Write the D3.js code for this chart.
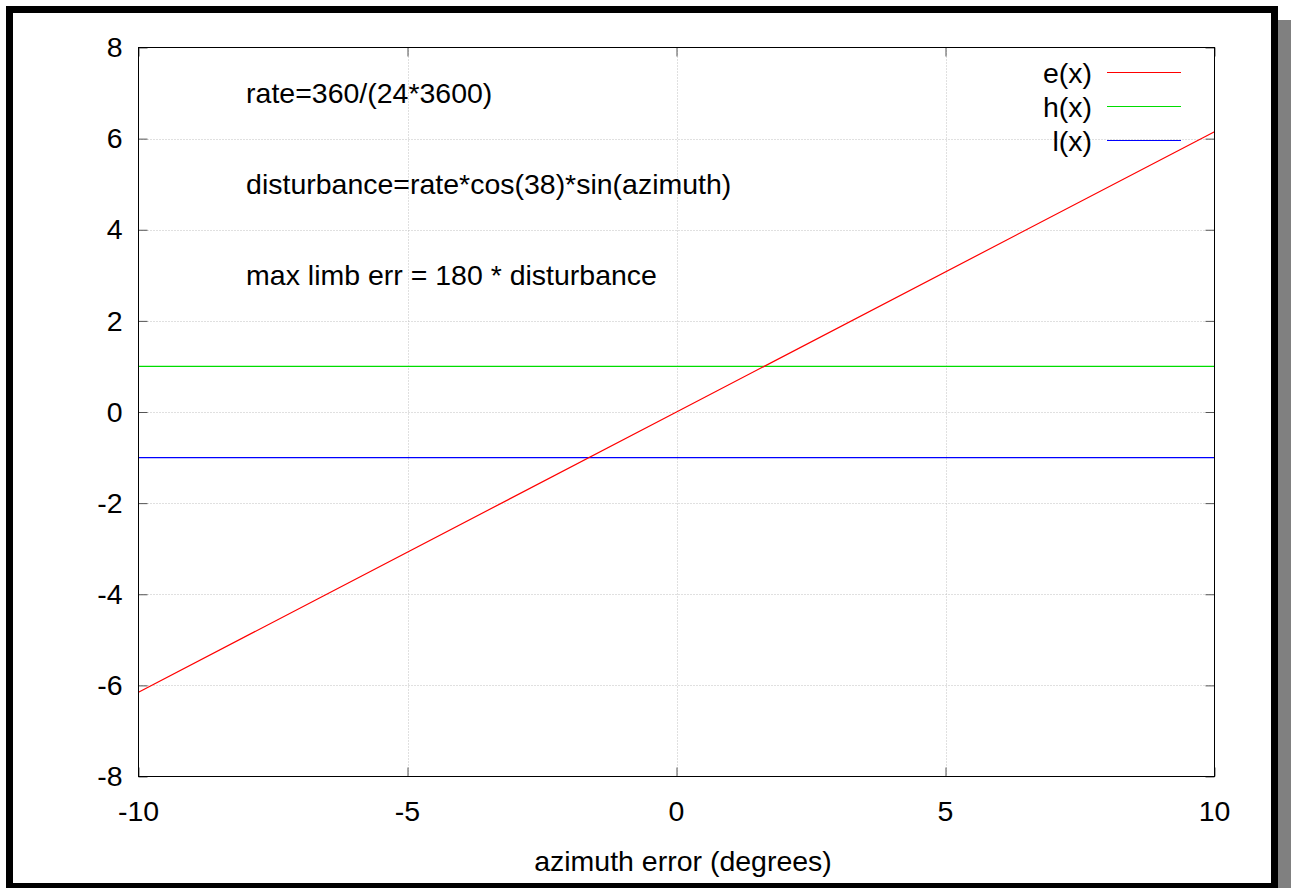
<!DOCTYPE html>
<html>
<head>
<meta charset="utf-8">
<script src="https://cdn.jsdelivr.net/npm/d3@7"></script>
<style>
  html, body { margin: 0; padding: 0; background: #fff; }
  svg { display: block; }
  text { font-family: "Liberation Sans", Arial, sans-serif; fill: #000; }
</style>
</head>
<body>
<script>
// ---- data ----
const xTicks = [-10, -5, 0, 5, 10];
const yTicks = [-8, -6, -4, -2, 0, 2, 4, 6, 8];
const eX = [-10, 0, 10];
const eY = [-6.15, 0, 6.15];
const hX = [-10, 10];
const hY = [1, 1];
const lX = [-10, 10];
const lY = [-1, -1];
const seriesNames = ["e(x)", "h(x)", "l(x)"];
const seriesColors = ["#ff0000", "#00dd00", "#0000ff"];
const notes = ["rate=360/(24*3600)", "disturbance=rate*cos(38)*sin(azimuth)", "max limb err = 180 * disturbance"];
const noteX = [-8, -8, -8];
const noteY = [7, 5, 3];
const xTitle = "azimuth error (degrees)";

// ---- layout ----
const W = 1291, H = 888;
const pL = 138.5, pR = 1214.5, pT = 47.5, pB = 776.5;
const fs = 27;
const sx = 1.055;
const tf = (px, py) => `translate(${px},${py}) scale(${sx},1)`;

const svg = d3.select("body").append("svg").attr("width", W).attr("height", H);

// shadow + frame
svg.append("rect").attr("x", 1278).attr("y", 20).attr("width", 13).attr("height", H - 20).attr("fill", "#808080");
svg.append("rect").attr("x", 9.5).attr("y", 9.5).attr("width", 1265).attr("height", 877)
  .attr("fill", "#fff").attr("stroke", "#000").attr("stroke-width", 7);

const x = d3.scaleLinear().domain([-10, 10]).range([pL, pR]);
const y = d3.scaleLinear().domain([-8, 8]).range([pB, pT]);

// grid
const grid = svg.append("g").attr("stroke", "#c0c0c0").attr("stroke-width", 1).attr("stroke-dasharray", "1,2");
xTicks.filter(d => d > -10 && d < 10).forEach(d => {
  grid.append("line").attr("x1", Math.round(x(d)) + 0.5).attr("x2", Math.round(x(d)) + 0.5).attr("y1", pT).attr("y2", pB);
});
yTicks.filter(d => d > -8 && d < 8).forEach(d => {
  grid.append("line").attr("y1", Math.round(y(d)) + 0.5).attr("y2", Math.round(y(d)) + 0.5).attr("x1", pL).attr("x2", pR);
});

// axes via d3 (ticks inward, mirrored)
const tl = 9;
const axL = svg.append("g").attr("transform", `translate(${pL},0)`)
  .call(d3.axisRight(y).tickValues(yTicks).tickSize(tl).tickFormat(""));
const axR = svg.append("g").attr("transform", `translate(${pR},0)`)
  .call(d3.axisLeft(y).tickValues(yTicks).tickSize(tl).tickFormat(""));
const axB = svg.append("g").attr("transform", `translate(0,${pB})`)
  .call(d3.axisTop(x).tickValues(xTicks).tickSize(tl).tickFormat(""));
const axT = svg.append("g").attr("transform", `translate(0,${pT})`)
  .call(d3.axisBottom(x).tickValues(xTicks).tickSize(tl).tickFormat(""));
[axL, axR, axB, axT].forEach(a => {
  a.select(".domain").remove();
  a.selectAll("line").attr("stroke", "#555");
});

// tick labels
svg.append("g").selectAll("text").data(yTicks).join("text")
  .attr("transform", d => tf(pL - 16, y(d))).attr("dy", "0.36em")
  .attr("text-anchor", "end").attr("font-size", fs).text(d => d);
svg.append("g").selectAll("text").data(xTicks).join("text")
  .attr("transform", d => tf(x(d), 821))
  .attr("text-anchor", "middle").attr("font-size", fs).text(d => d);

// axis title
svg.append("text").attr("transform", tf(683, 871))
  .attr("text-anchor", "middle").attr("font-size", fs).text(xTitle);

// notes
svg.append("g").selectAll("text").data(notes).join("text")
  .attr("transform", (d, i) => tf(x(noteX[i]), y(noteY[i]))).attr("dy", "0.36em")
  .attr("font-size", fs).text(d => d);

// series
const line = d3.line().x(d => x(d[0])).y(d => y(d[1]));
const series = [d3.zip(eX, eY), d3.zip(hX, hY), d3.zip(lX, lY)];
[1, 2, 0].forEach(i => {
  svg.append("path").datum(series[i]).attr("d", line)
    .attr("fill", "none").attr("stroke", seriesColors[i]).attr("stroke-width", 1.2);
});

// plot border
svg.append("rect").attr("x", pL).attr("y", pT).attr("width", pR - pL).attr("height", pB - pT)
  .attr("fill", "none").attr("stroke", "#000").attr("stroke-width", 1);

// legend
const legY = [73, 107, 141];
const leg = svg.append("g");
seriesNames.forEach((n, i) => {
  leg.append("text").attr("transform", tf(1092, legY[i])).attr("dy", "0.36em")
    .attr("text-anchor", "end").attr("font-size", fs).text(n);
  leg.append("line").attr("x1", 1107).attr("x2", 1181).attr("y1", legY[i] - 0.5).attr("y2", legY[i] - 0.5)
    .attr("stroke", seriesColors[i]).attr("stroke-width", 1.2);
});
</script>
</body>
</html>
